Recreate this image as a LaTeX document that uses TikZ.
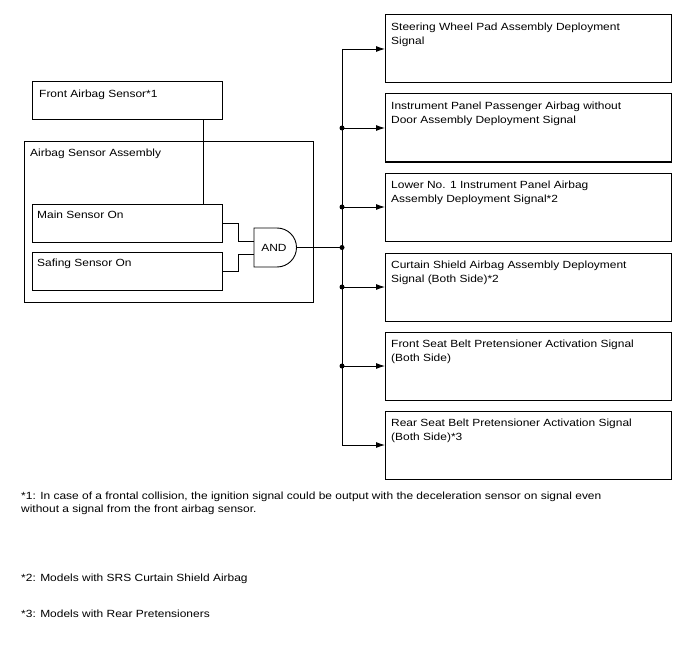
\documentclass[tikz,border=0pt]{standalone}
\usepackage{fontspec}
\setmainfont[FakeStretch=1.15]{Liberation Sans}
\usetikzlibrary{arrows.meta,positioning}

\tikzset{
  partbox/.style={draw=black, line width=1pt, inner sep=0pt, outer sep=0pt, anchor=north west},
  boxtext/.style={anchor=north west, inner sep=0pt, align=left, font=\fontsize{10.4}{14}\selectfont},
  notetext/.style={anchor=north west, inner sep=0pt, align=left, font=\fontsize{10.4}{13}\selectfont},
  wire/.style={draw=black, line width=0.9pt},
  sig/.style={wire, -{Latex[length=9pt,width=6pt]}},
  junction/.style={circle, fill=black, inner sep=0pt, minimum size=5pt}
}

\begin{document}
\begin{tikzpicture}[x=1pt, y=-1pt]
        \useasboundingbox (0,0) rectangle (688,658);

        % sensor side
	\node[partbox, minimum width=190pt, minimum height=38pt] (fas) at (32,82) {};
	\node[partbox, minimum width=289pt, minimum height=160pt] (asa) at (24,142) {};
	\node[partbox, minimum width=190pt, minimum height=38pt] (mso) at (32,204) {};
	\node[partbox, minimum width=190pt, minimum height=38pt] (sso) at (32,252) {};

	\node[boxtext] (fastxt) at ([xshift=7pt, yshift=-8pt]fas.north west) {Front Airbag Sensor*1};
	\node[boxtext] (asatxt) at ([xshift=6pt, yshift=-7pt]asa.north west) {Airbag Sensor Assembly};
	\node[boxtext] (msotxt) at ([xshift=5pt, yshift=-7pt]mso.north west) {Main Sensor On};
	\node[boxtext] (ssotxt) at ([xshift=5pt, yshift=-7pt]sso.north west) {Safing Sensor On};

	\draw[wire] ([xshift=-19pt]fas.south east) -- ([xshift=-19pt]mso.north east);

        % AND gate
	\coordinate (andin1) at (254,241);
	\coordinate (andin2) at (254,254);
	\coordinate (andout) at (296.5,247.5);
	\draw[wire] (254,228) -- (277,228)
	  .. controls (287.8,228) and (296.5,236.7) .. (andout)
	  .. controls (296.5,258.3) and (287.8,267) .. (277,267)
	  -- (254,267) -- cycle;
	\node[font=\fontsize{10.4}{14}\selectfont, inner sep=0pt] (andg) at (274,247.5) {AND};

	\draw[wire] (mso.east) -- ++(16,0) |- (andin1);
	\draw[wire] (sso.east) -- ++(16,0) |- (andin2);

        % deployment signals
	\foreach \i/\top/\txt in {
	  1/15/{Steering Wheel Pad Assembly Deployment\\Signal},
	  2/94/{Instrument Panel Passenger Airbag without\\Door Assembly Deployment Signal},
	  3/173/{Lower No. 1 Instrument Panel Airbag\\Assembly Deployment Signal*2},
	  4/253/{Curtain Shield Airbag Assembly Deployment\\Signal (Both Side)*2},
	  5/332/{Front Seat Belt Pretensioner Activation Signal\\(Both Side)},
	  6/411/{Rear Seat Belt Pretensioner Activation Signal\\(Both Side)*3}} {
	  \node[partbox, minimum width=286pt, minimum height=68pt] (out\i) at (385,\top) {};
	  \node[boxtext] (out\i txt) at ([xshift=6pt, yshift=-8pt]out\i.north west) {\txt};
	  \coordinate (in\i) at ([yshift=-34pt]out\i.north west);
	}

	\coordinate (bus) at (342,0);
	\draw[wire] (in1 -| bus) -- (in6 -| bus);
	\foreach \i in {1,...,6}
	  \draw[sig] (in\i -| bus) -- (in\i);
	\foreach \i in {2,...,5}
	  \node[junction] (j\i) at (in\i -| bus) {};

	\draw[wire] (andout) -- (andout -| bus);
	\node[junction] (jand) at (andout -| bus) {};

        % notes
	\node[notetext] (note1) at (21,492) {*1: In case of a frontal collision, the ignition signal could be output with the deceleration sensor on signal even\\without a signal from the front airbag sensor.};
	\node[notetext] (note2) at (21,574) {*2: Models with SRS Curtain Shield Airbag};
	\node[notetext] (note3) at (21,610) {*3: Models with Rear Pretensioners};

\end{tikzpicture}
\end{document}
